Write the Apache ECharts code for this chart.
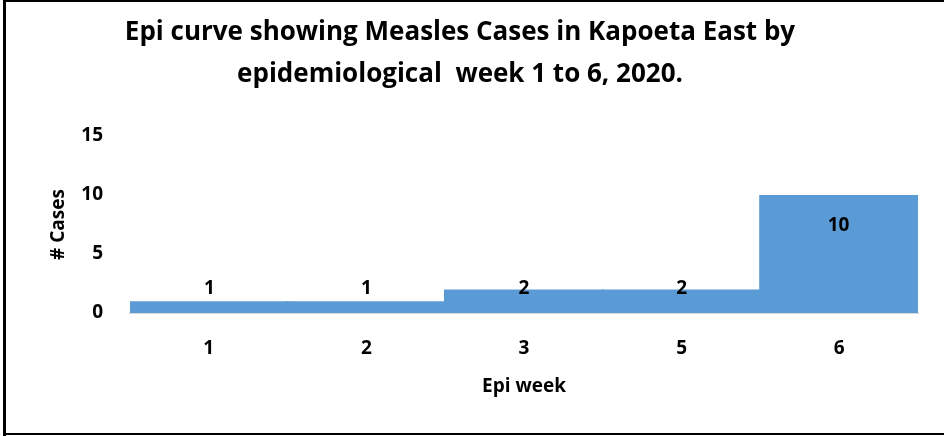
<!DOCTYPE html>
<html>
<head>
    <meta charset="utf-8">
    <title>Epi curve</title>
    <script src="https://cdn.jsdelivr.net/npm/echarts@6/dist/echarts.min.js"></script>
    <style>
        body { margin: 0; background: #fff; }
        #main { width: 944px; height: 436px; }
    </style>
</head>
<body>
    <div id="main"></div>
    <script type="text/javascript">
        var weeks = ['1', '2', '3', '5', '6'];
        var cases = [1, 1, 2, 2, 10];
        var yTicks = [0, 5, 10, 15];

        var FONT = 'Open Sans';
        var chart = echarts.init(document.getElementById('main'));

        // label offset from bar top, per value (Excel put them a bit oddly)
        function labelDistance(v) {
            if (v >= 10) return 21;
            if (v >= 2) return -10;
            return -22;
        }

        var option = {
            animation: false,
            title: {
                text: 'Epi curve showing Measles Cases in Kapoeta East by\nepidemiological  week 1 to 6, 2020.',
                left: 455,
                top: 7,
                textAlign: 'center',
                textStyle: {
                    fontFamily: FONT,
                    fontWeight: 'bold',
                    fontSize: 26,
                    lineHeight: 42,
                    color: '#000'
                }
            },
            grid: {
                left: 130,
                right: 26,
                top: 136,
                bottom: 123
            },
            xAxis: {
                type: 'category',
                data: weeks,
                name: 'Epi week',
                nameLocation: 'middle',
                nameGap: 64,
                nameTextStyle: { fontFamily: FONT, fontWeight: 'bold', fontSize: 19, color: '#000' },
                axisLine: { lineStyle: { color: '#d9d9d9', width: 2 } },
                axisTick: { show: false },
                axisLabel: { fontFamily: FONT, fontWeight: 'bold', fontSize: 19, color: '#000', margin: 26 }
            },
            yAxis: {
                type: 'value',
                min: yTicks[0],
                max: yTicks[yTicks.length - 1],
                interval: 5,
                name: '# Cases',
                nameLocation: 'middle',
                nameGap: 62,
                nameTextStyle: { fontFamily: FONT, fontWeight: 'bold', fontSize: 19, color: '#000' },
                axisLine: { show: false },
                axisTick: { show: false },
                splitLine: { show: false },
                axisLabel: { fontFamily: FONT, fontWeight: 'bold', fontSize: 19, color: '#000', margin: 27 }
            },
            series: [{
                type: 'bar',
                data: cases.map(function (v) {
                    return { value: v, label: { distance: labelDistance(v) } };
                }),
                // slightly wider than the band so neighbouring bars overlap, no seams
                barWidth: 160,
                itemStyle: { color: '#5b9bd5' },
                label: {
                    show: true,
                    position: 'insideTop',
                    fontFamily: FONT,
                    fontWeight: 'bold',
                    fontSize: 19,
                    color: '#000'
                }
            }],
            graphic: [
                { type: 'rect', shape: { x: 3, y: 0, width: 3, height: 436 }, style: { fill: '#000' } },
                { type: 'rect', shape: { x: 3, y: 0, width: 941, height: 2 }, style: { fill: '#000' } },
                { type: 'rect', shape: { x: 3, y: 433, width: 941, height: 2 }, style: { fill: '#000' } }
            ]
        };

        chart.setOption(option);
    </script>
</body>
</html>
